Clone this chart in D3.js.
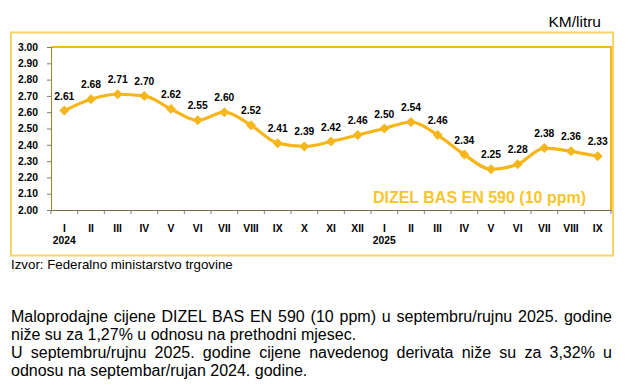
<!DOCTYPE html>
<html>
<head>
<meta charset="utf-8">
<script src="https://cdn.jsdelivr.net/npm/d3@7"></script>
<style>
  body{margin:0;background:#fff;font-family:Arial,"Liberation Sans",sans-serif;}
  #chart{position:absolute;left:0;top:0;}
  #note{position:absolute;left:11px;top:308px;width:601px;font-size:16px;line-height:17.9px;color:#000;}
  #note div{white-space:nowrap;}
  #note .j{text-align:justify;text-align-last:justify;}
</style>
</head>
<body>
<div id="chart"></div>
<div id="note">
<div class="j">Maloprodajne cijene DIZEL BAS EN 590 (10 ppm) u septembru/rujnu 2025. godine</div>
<div>niže su za 1,27% u odnosu na prethodni mjesec.</div>
<div class="j">U septembru/rujnu 2025. godine cijene navedenog derivata niže su za 3,32% u</div>
<div>odnosu na septembar/rujan 2024. godine.</div>
</div>
<script>
// months on the x axis, year shown under each January
let months = ['I','II','III','IV','V','VI','VII','VIII','IX','X','XI','XII','I','II','III','IV','V','VI','VII','VIII','IX'];
let years = ['2024','','','','','','','','','','','','2025','','','','','','','',''];
let prices = [2.61,2.68,2.71,2.70,2.62,2.55,2.60,2.52,2.41,2.39,2.42,2.46,2.50,2.54,2.46,2.34,2.25,2.28,2.38,2.36,2.33];
let yTicks = [2.00,2.10,2.20,2.30,2.40,2.50,2.60,2.70,2.80,2.90,3.00];

let gold = '#F5B61C';
let svg = d3.select('#chart').append('svg').attr('width',626).attr('height',300);

// outer frame
svg.append('rect').attr('x',11).attr('y',32.5).attr('width',602).attr('height',223)
	.attr('fill','none').attr('stroke','#F7D36A').attr('stroke-width',2);

svg.append('text').attr('x',601).attr('y',27).attr('text-anchor','end')
	.style('font-size','15.5px').text('KM/litru');

let pLeft = 51, pRight = 611, pTop = 47, pBottom = 210;
let ids = d3.range(prices.length);
let x = d3.scaleBand().domain(ids).range([pLeft,pRight]);
let y = d3.scaleLinear().domain([2,3]).range([pBottom,pTop]);
let cx = i => x(i) + x.bandwidth()/2;

// plot border top and right
svg.append('path').attr('d',`M${pLeft},${pTop}H${pRight}V${pBottom}`)
	.attr('fill','none').attr('stroke',gold).attr('stroke-width',2);

let yAxis = svg.append('g').attr('transform',`translate(${pLeft},0)`)
	.call(d3.axisLeft(y).tickValues(yTicks).tickFormat(d3.format('.2f')).tickSize(4).tickPadding(9));
yAxis.select('.domain').attr('stroke','#9C8440');
yAxis.selectAll('.tick line').attr('stroke','#7a7a7a');
yAxis.selectAll('text').style('font-size','10.3px').style('font-weight','bold').attr('fill','#000')
	.style('font-family','Arial,"Liberation Sans",sans-serif');

let xAxis = svg.append('g').attr('transform',`translate(0,${pBottom})`)
	.call(d3.axisBottom(x).tickSize(0).tickFormat(''));
xAxis.select('.domain').attr('stroke','#7a6a40');
// tick marks between categories
svg.append('g').selectAll('line').data(d3.range(prices.length+1)).join('line')
	.attr('x1',i => pLeft + i*x.bandwidth()).attr('x2',i => pLeft + i*x.bandwidth())
	.attr('y1',pBottom).attr('y2',pBottom+4).attr('stroke','#7a7a7a');

svg.append('g').selectAll('text').data(months).join('text')
	.attr('x',(d,i) => cx(i)).attr('y',232).attr('text-anchor','middle')
	.style('font-size','10.3px').style('font-weight','bold').text(d => d);
svg.append('g').selectAll('text').data(years).join('text')
	.attr('x',(d,i) => cx(i)).attr('y',244).attr('text-anchor','middle')
	.style('font-size','10.3px').style('font-weight','bold').text(d => d);

let line = d3.line().x((d,i) => cx(i)).y(d => y(d)).curve(d3.curveMonotoneX);
svg.append('path').datum(prices).attr('d',line)
	.attr('fill','none').attr('stroke',gold).attr('stroke-width',3.2);

svg.append('g').selectAll('path').data(prices).join('path')
	.attr('transform',(d,i) => `translate(${cx(i)},${y(d)})`)
	.attr('d','M0,-5L5,0L0,5L-5,0Z').attr('fill',gold);

svg.append('g').selectAll('text').data(prices).join('text')
	.attr('x',(d,i) => cx(i)).attr('y',d => y(d) - 11).attr('text-anchor','middle')
	.style('font-size','10.3px').style('font-weight','bold').text(d => d.toFixed(2));

svg.append('text').attr('x',586).attr('y',203).attr('text-anchor','end')
	.style('font-size','16px').style('font-weight','bold').attr('fill','#F7C52B')
	.text('DIZEL BAS EN 590 (10 ppm)');

svg.append('text').attr('x',11).attr('y',269).style('font-size','13.3px')
	.text('Izvor: Federalno ministarstvo trgovine');
</script>
</body>
</html>
